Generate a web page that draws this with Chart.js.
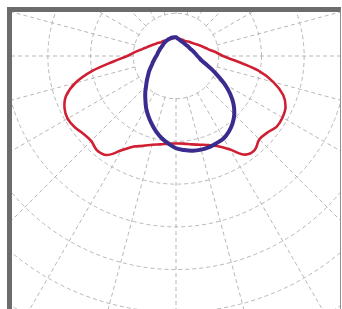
<!DOCTYPE html>
<html>
<head>
<meta charset="utf-8">
<script src="https://cdn.jsdelivr.net/npm/chart.js@4"></script>
<style>
  html, body { margin: 0; padding: 0; background: #fff; }
  body { width: 342px; height: 309px; position: relative; overflow: hidden; }
  #frame {
    position: absolute; left: 7px; top: 7px;
    width: 328px; height: 302px;
    border-left: 5px solid #6c6c6c; border-top: 5px solid #6c6c6c;
    border-right: 1px solid #8e8e8e;
    overflow: hidden; background: #fff;
  }
  #chart { position: absolute; left: -135px; top: -255px; }
</style>
</head>
<body>
<div id="frame"><canvas id="chart" width="598" height="598"></canvas></div>
<script>
// angle from nadir, going round clockwise on screen (down -> left -> up -> right)
const angulos = [
  0, 5, 10, 15, 20, 25, 30, 35, 40, 45, 50, 55, 60, 65, 70, 75, 80, 85,
  90, 95, 100, 105, 110, 115, 120, 125, 130, 135, 140, 145, 150, 155, 160, 165, 170, 175,
  180, 185, 190, 195, 200, 205, 210, 215, 220, 225, 230, 235, 240, 245, 250, 255, 260, 265,
  270, 275, 280, 285, 290, 295, 300, 305, 310, 315, 320, 325, 330, 335, 340, 345, 350, 355
];

// cd/klm
const curvaVermelha = [
  205, 206, 210, 215, 224, 234, 255, 283, 288, 281, 283, 290, 293, 288, 274, 244, 198, 147,
  114, 98, 84, 74, 67, 61, 56, 53, 49, 47, 46, 44, 43, 42, 42, 42, 42, 43,
  43, 42, 41, 40, 41, 41, 41, 42, 44, 46, 48, 51, 55, 60, 65, 72, 81, 95,
  110, 143, 195, 236, 267, 283, 288, 288, 279, 276, 287, 282, 253, 233, 222, 215, 210, 206
];

const curvaAzul = [
  216, 206, 195, 182, 168, 154, 140, 125, 112, 99, 89, 80, 73, 66, 60, 56, 52, 49,
  46, 44, 43, 42, 41, 41, 40, 40, 40, 41, 41, 42, 42, 43, 43, 44, 44, 44,
  44, 41, 40, 38, 37, 36, 36, 35, 35, 35, 36, 36, 37, 38, 40, 42, 44, 47,
  50, 55, 61, 72, 88, 107, 131, 155, 176, 193, 206, 216, 223, 225, 227, 227, 225, 221
];

const passoAnel = 100;
const maxEscala = 700;

const corGrade = '#b7b7b7';

// blank the grid inside the first ring, the curves are drawn after this
const miolo = {
  id: 'miolo',
  beforeDatasetsDraw(chart) {
    const r = chart.scales.r;
    const ctx = chart.ctx;
    ctx.save();
    ctx.fillStyle = '#fff';
    ctx.beginPath();
    ctx.arc(r.xCenter, r.yCenter, r.getDistanceFromCenterForValue(passoAnel) - 1, 0, Math.PI * 2);
    ctx.fill();
    ctx.restore();
  }
};

new Chart(document.getElementById('chart'), {
  type: 'radar',
  data: {
    labels: angulos,
    datasets: [
      {
        label: 'C90-C270',
        data: curvaAzul,
        borderColor: '#3a2b8e',
        borderWidth: 4,
        backgroundColor: 'transparent',
        fill: false,
        tension: 0.35,
        pointRadius: 0
      },
      {
        label: 'C0-C180',
        data: curvaVermelha,
        borderColor: '#d01f33',
        borderWidth: 2.6,
        backgroundColor: 'transparent',
        fill: false,
        tension: 0.35,
        pointRadius: 0
      }
    ]
  },
  options: {
    responsive: false,
    animation: false,
    layout: { padding: 0 },
    plugins: { legend: { display: false }, tooltip: { enabled: false } },
    scales: {
      r: {
        min: 0,
        max: maxEscala,
        startAngle: 180,
        ticks: { display: false, stepSize: passoAnel },
        pointLabels: { display: false },
        grid: { circular: true, color: corGrade, lineWidth: 1, borderDash: [4, 3] },
        border: { dash: [4, 3] },
        angleLines: {
          color: corGrade,
          lineWidth: (ctx) => (ctx.index % 3 === 0 ? 1 : 0),
          borderDash: [4, 3]
        }
      }
    }
  },
  plugins: [miolo]
});
</script>
</body>
</html>
